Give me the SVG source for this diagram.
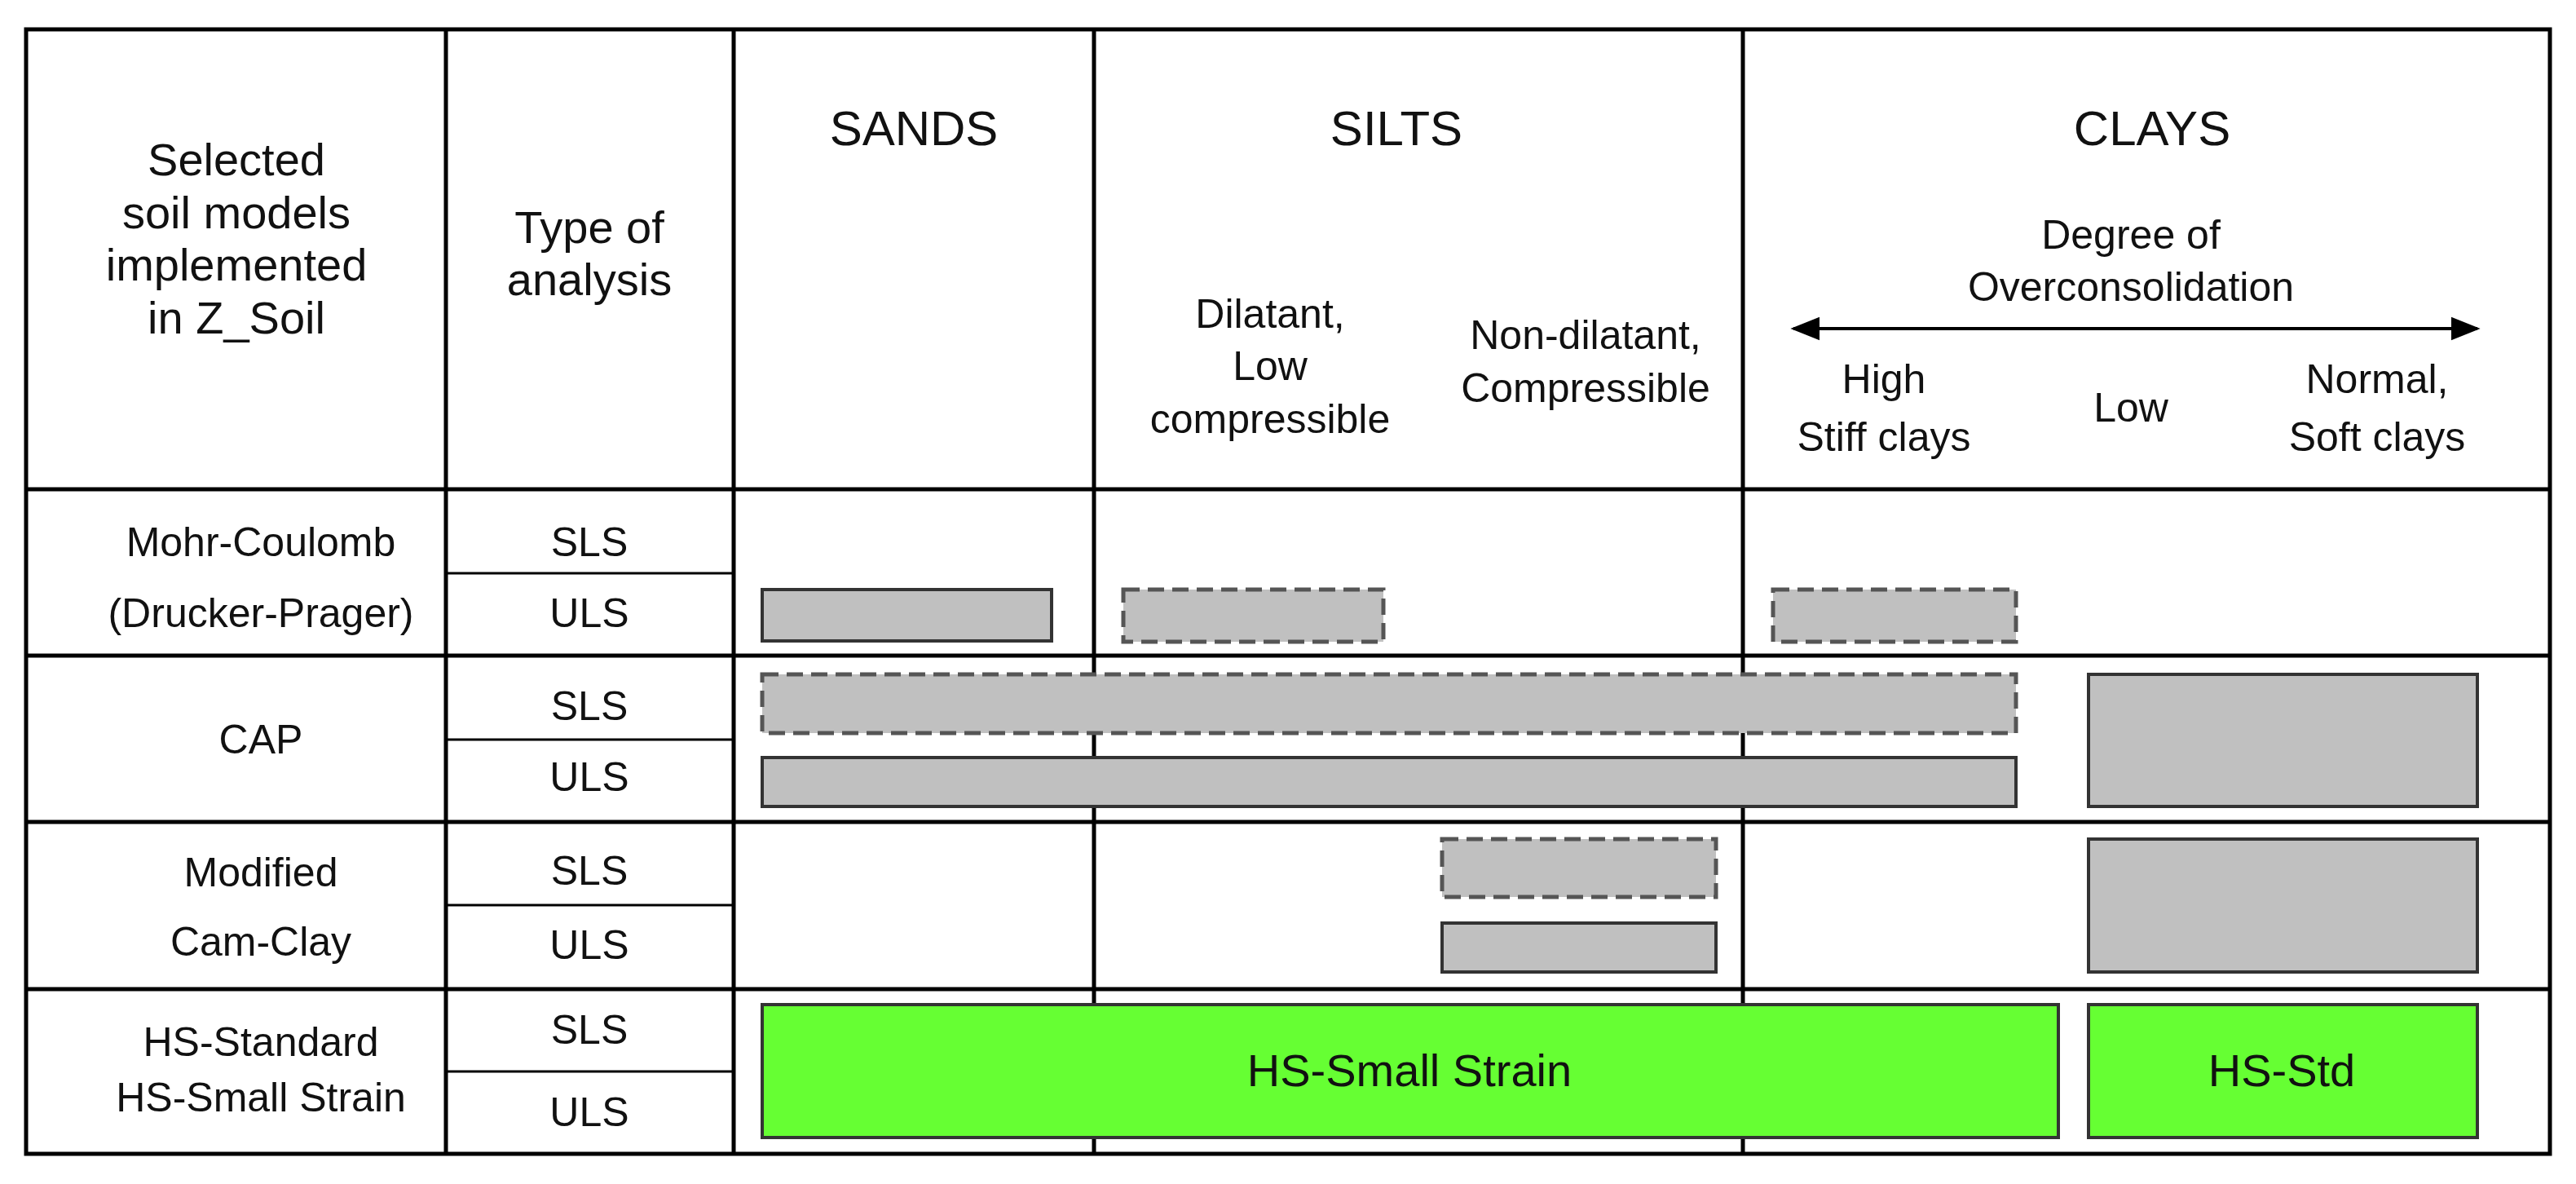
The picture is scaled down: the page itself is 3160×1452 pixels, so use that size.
<svg xmlns="http://www.w3.org/2000/svg" width="3160" height="1452" viewBox="0 0 3160 1452">
<defs>
<style>
text{font-family:"Liberation Sans",Arial,sans-serif;fill:#111;text-anchor:middle;dominant-baseline:central}
.h{font-size:60px}.t{font-size:56px}.s{font-size:50px}
.grid{stroke:#000;stroke-width:5;fill:none}
.thin{stroke:#000;stroke-width:3}
.bar{fill:#c0c0c0;stroke:#333;stroke-width:4}
.dash{fill:#c0c0c0;stroke:#555;stroke-width:5;stroke-dasharray:20 10}
.green{fill:#66ff33;stroke:#333;stroke-width:4}
</style>
<marker id="ah" viewBox="0 0 10 10" refX="9" refY="5" markerWidth="9" markerHeight="9" orient="auto-start-reverse" markerUnits="strokeWidth"><path d="M0,1 L10,5 L0,9 Z" fill="#000"/></marker>
</defs>
<rect width="3160" height="1452" fill="#fff"/>
<g id="grid">
<rect class="grid" x="32" y="36" width="3096" height="1379"/>
<path class="grid" d="M32,600H3128M32,804H3128M32,1008H3128M32,1213H3128M547,36V1415M900,36V1415M1342,36V1415M2138,36V1415"/>
<path class="thin" d="M547,703H900M547,907H900M547,1110H900M547,1314H900"/>
</g>
<g id="headers">
<text class="t" x="290" y="195">Selected</text>
<text class="t" x="290" y="260">soil models</text>
<text class="t" x="290" y="324">implemented</text>
<text class="t" x="290" y="389">in Z_Soil</text>
<text class="t" x="723" y="278">Type of</text>
<text class="t" x="723" y="342">analysis</text>
<text class="h" x="1121" y="157">SANDS</text>
<text class="h" x="1713" y="157">SILTS</text>
<text class="h" x="2640" y="157">CLAYS</text>
<text class="s" x="2614" y="288">Degree of</text>
<text class="s" x="2614" y="352">Overconsolidation</text>
<text class="s" x="1558" y="385">Dilatant,</text>
<text class="s" x="1558" y="449">Low</text>
<text class="s" x="1558" y="514">compressible</text>
<text class="s" x="1945" y="411">Non-dilatant,</text>
<text class="s" x="1945" y="476">Compressible</text>
<text class="s" x="2311" y="465">High</text>
<text class="s" x="2311" y="536">Stiff clays</text>
<text class="s" x="2614" y="500">Low</text>
<text class="s" x="2916" y="465">Normal,</text>
<text class="s" x="2916" y="536">Soft clays</text>
</g>
<g id="connectors">
<line x1="2200" y1="403" x2="3039" y2="403" stroke="#000" stroke-width="4" marker-start="url(#ah)" marker-end="url(#ah)"/>
</g>
<g id="row-mc">
<text class="s" x="320" y="665">Mohr-Coulomb</text>
<text class="s" x="320" y="752">(Drucker-Prager)</text>
<text class="s" x="723" y="665">SLS</text>
<text class="s" x="723" y="752">ULS</text>
<rect class="bar" x="935" y="723" width="355" height="63"/>
<rect class="dash" x="1378" y="723" width="319" height="64"/>
<rect class="dash" x="2175" y="723" width="298" height="64"/>
</g>
<g id="row-cap">
<text class="s" x="320" y="907">CAP</text>
<text class="s" x="723" y="866">SLS</text>
<text class="s" x="723" y="953">ULS</text>
<rect class="dash" x="935" y="827" width="1538" height="72"/>
<rect class="bar" x="935" y="929" width="1538" height="60"/>
<rect class="bar" x="2562" y="827" width="477" height="162"/>
</g>
<g id="row-mcc">
<text class="s" x="320" y="1070">Modified</text>
<text class="s" x="320" y="1155">Cam-Clay</text>
<text class="s" x="723" y="1068">SLS</text>
<text class="s" x="723" y="1159">ULS</text>
<rect class="dash" x="1769" y="1029" width="336" height="71"/>
<rect class="bar" x="1769" y="1132" width="336" height="60"/>
<rect class="bar" x="2562" y="1029" width="477" height="163"/>
</g>
<g id="row-hs">
<text class="s" x="320" y="1278">HS-Standard</text>
<text class="s" x="320" y="1346">HS-Small Strain</text>
<text class="s" x="723" y="1263">SLS</text>
<text class="s" x="723" y="1364">ULS</text>
<rect class="green" x="935" y="1232" width="1590" height="163"/>
<text class="t" x="1729" y="1312">HS-Small Strain</text>
<rect class="green" x="2562" y="1232" width="477" height="163"/>
<text class="t" x="2799" y="1312">HS-Std</text>
</g>
</svg>
